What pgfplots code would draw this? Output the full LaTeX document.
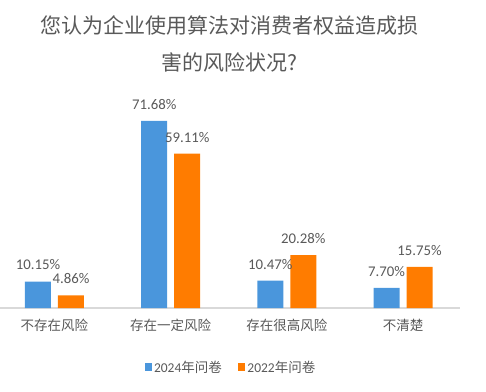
\documentclass[border=0pt]{standalone}
\usepackage{pgfplots}
\pgfplotsset{compat=1.18}
\usepackage{fontspec}
\setmainfont{Carlito}
\newfontfamily\cjk{Noto Sans CJK SC}
\definecolor{bblue}{HTML}{4A96DC}
\definecolor{borange}{HTML}{FF7C00}
\definecolor{tgray}{HTML}{595959}
\definecolor{lgray}{HTML}{D9D9D9}
\begin{document}
\begin{tikzpicture}
\path[use as bounding box] (0,-84bp) rectangle (486bp,308bp);
\begin{axis}[
  at={(0,0)}, anchor=south west,
  scale only axis, width=460bp, height=208.8bp,
  xmin=-0.469, xmax=3.49, ymin=0, ymax=80,
  enlargelimits=false,
  ybar=7bp, bar width=26bp,
  axis x line=bottom, axis y line=none,
  x axis line style={-, draw=lgray, line width=1.5bp},
  xtick={0,1,2,3},
  xticklabels={不存在风险,存在一定风险,存在很高风险,不清楚},
  major tick length=0pt,
  xticklabel style={font=\cjk\fontsize{13.5bp}{16bp}\selectfont, text=tgray, yshift=-8bp},
  ytick=\empty,
  /pgf/number format/assume math mode=true,
  nodes near coords={\pgfmathprintnumber[fixed,fixed zerofill,precision=2]{\pgfplotspointmeta}\%},
  every node near coord/.append style={font=\fontsize{14.8bp}{17bp}\selectfont, text=tgray, anchor=center, yshift=16.5bp},
  legend style={at={(0.502,-0.283)}, anchor=center, draw=none, fill=none,
    font=\fontsize{13.5bp}{16bp}\selectfont, text=tgray,
    /tikz/every even column/.append style={column sep=14bp}},
  legend columns=2,
  legend image code/.code={\fill[#1] (0bp,-3.5bp) rectangle (7.5bp,4bp);},
]
\addplot[fill=bblue, draw=none] coordinates {(0,10.15) (1,71.68) (2,10.47) (3,7.70)};
\addplot[fill=borange, draw=none] coordinates {(0,4.86) (1,59.11) (2,20.28) (3,15.75)};
\legend{2024{\cjk 年问卷},2022{\cjk 年问卷}}
\end{axis}
\node[align=center, text=tgray, font=\cjk\fontsize{21bp}{37bp}\selectfont] at (229bp,264bp)
  {您认为企业使用算法对消费者权益造成损\\害的风险状况?};
\end{tikzpicture}
\end{document}
